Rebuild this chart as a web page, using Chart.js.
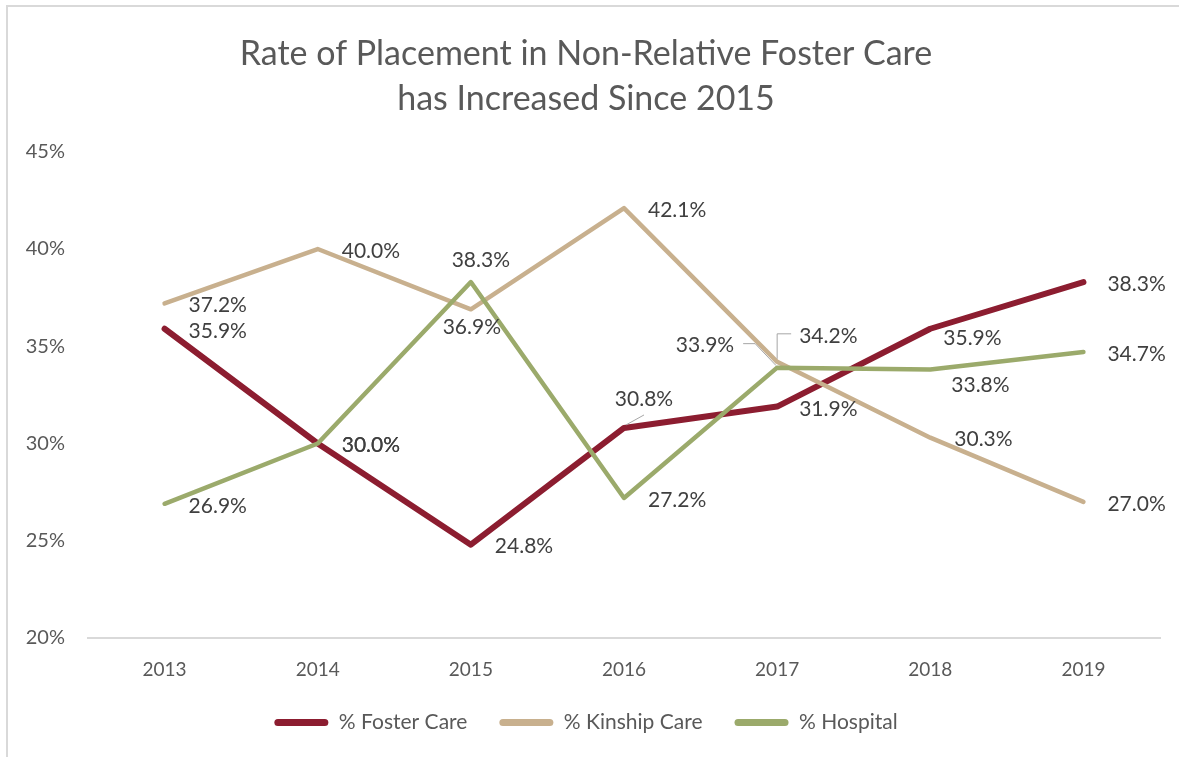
<!DOCTYPE html>
<html>
<head>
<meta charset="utf-8">
<script src="https://cdn.jsdelivr.net/npm/chart.js@4/dist/chart.umd.min.js"></script>
<style>
  html, body { margin: 0; padding: 0; background: #fff; overflow: hidden; }
  #frame { position: absolute; left: 6px; top: 5px; width: 1400px; height: 900px; border: 2px solid #d9d9d9; }
  #wrap { position: absolute; left: 0; top: 0; width: 1179px; height: 757px; }
</style>
</head>
<body>
<div id="frame"></div>
<div id="wrap"><canvas id="lineChart" width="1179" height="757"></canvas></div>
<script>
const years = ["2013", "2014", "2015", "2016", "2017", "2018", "2019"];
const fosterCare = [35.9, 30.0, 24.8, 30.8, 31.9, 35.9, 38.3];
const kinshipCare = [37.2, 40.0, 36.9, 42.1, 34.2, 30.3, 27.0];
const hospital = [26.9, 30.0, 38.3, 27.2, 33.9, 33.8, 34.7];
const yTicks = [20, 25, 30, 35, 40, 45];

// where each value label sits relative to its point
const R = { dx: 24, dy: 2, align: "left" };
const labelPlacement = [
  [R, R, R, { dx: 20, dy: -29, align: "center" }, { dx: 22, dy: 3, align: "left" }, { dx: 13, dy: 9, align: "left" }, R],
  [R, R, { dx: 1, dy: 18, align: "center" }, R, { dx: 22, dy: -26, align: "left" }, R, R],
  [R, R, { dx: 10, dy: -22, align: "center" }, R, { dx: -43, dy: -22, align: "right" }, { dx: 21, dy: 16, align: "left" }, R]
];
// leader lines (offsets from the point)
const leaders = [
  { ds: 0, i: 3, pts: [[2, -3], [20, -13]] },
  { ds: 1, i: 4, pts: [[0, -3], [0, -28], [14, -28]] },
  { ds: 2, i: 4, pts: [[-1, -2], [-22, -24], [-34, -24]] }
];

const valueLabels = {
  id: "valueLabels",
  afterDatasetsDraw(chart) {
    const ctx = chart.ctx;
    ctx.save();
    ctx.strokeStyle = "#a6a6a6";
    ctx.lineWidth = 1;
    leaders.forEach(l => {
      const p = chart.getDatasetMeta(l.ds).data[l.i];
      ctx.beginPath();
      l.pts.forEach((o, k) => {
        if (k === 0) ctx.moveTo(p.x + o[0], p.y + o[1]);
        else ctx.lineTo(p.x + o[0], p.y + o[1]);
      });
      ctx.stroke();
    });
    ctx.font = "21px Lato";
    ctx.fillStyle = "#404040";
    ctx.textBaseline = "middle";
    chart.data.datasets.forEach((ds, d) => {
      const meta = chart.getDatasetMeta(d);
      meta.data.forEach((p, i) => {
        const pl = labelPlacement[d][i];
        ctx.textAlign = pl.align;
        ctx.fillText(ds.data[i].toFixed(1) + "%", p.x + pl.dx, p.y + pl.dy);
      });
    });
    ctx.restore();
  }
};

const ctx = document.getElementById("lineChart").getContext("2d");
new Chart(ctx, {
  type: "line",
  data: {
    labels: years,
    datasets: [
      { label: "% Foster Care", data: fosterCare, borderColor: "#8c1d30", backgroundColor: "#8c1d30", borderWidth: 6, order: 3 },
      { label: "% Kinship Care", data: kinshipCare, borderColor: "#c8b08e", backgroundColor: "#c8b08e", borderWidth: 4.5, order: 2 },
      { label: "% Hospital", data: hospital, borderColor: "#9baa6b", backgroundColor: "#9baa6b", borderWidth: 4.5, order: 1 }
    ]
  },
  options: {
    responsive: false,
    animation: false,
    maintainAspectRatio: false,
    layout: { padding: { left: 12, right: 19, top: 10, bottom: 14 } },
    elements: {
      line: { tension: 0, borderCapStyle: "round", borderJoinStyle: "round", fill: false },
      point: { radius: 0, hoverRadius: 0 }
    },
    scales: {
      x: {
        offset: true,
        grid: { display: false, drawTicks: false },
        border: { display: true, color: "#d9d9d9", width: 2 },
        ticks: { color: "#595959", font: { family: "Lato", size: 19 }, padding: 20 },
        afterFit: s => { s.height = 42; }
      },
      y: {
        min: 20,
        max: 45,
        afterBuildTicks: s => { s.ticks = yTicks.map(v => ({ value: v })); },
        grid: { display: false, drawTicks: false },
        border: { display: false },
        ticks: { color: "#595959", font: { family: "Lato", size: 20 }, padding: 23, callback: v => v + "%" },
        afterFit: s => { s.width = 76; }
      }
    },
    plugins: {
      title: {
        display: true,
        text: ["Rate of Placement in Non-Relative Foster Care", "has Increased Since 2015"],
        color: "#595959",
        font: { family: "Lato", size: 34, weight: "normal", lineHeight: 1.32 },
        padding: { top: 22, bottom: 30 }
      },
      legend: {
        position: "bottom",
        labels: {
          color: "#595959",
          font: { family: "Lato", size: 21 },
          boxWidth: 54,
          boxHeight: 7,
          useBorderRadius: true,
          borderRadius: 3.5,
          padding: 32,
          sort: (a, b) => a.datasetIndex - b.datasetIndex,
          generateLabels: chart => Chart.defaults.plugins.legend.labels.generateLabels(chart).map(l => ({ ...l, lineWidth: 0 }))
        }
      },
      tooltip: { enabled: false }
    }
  },
  plugins: [valueLabels]
});
</script>
</body>
</html>
